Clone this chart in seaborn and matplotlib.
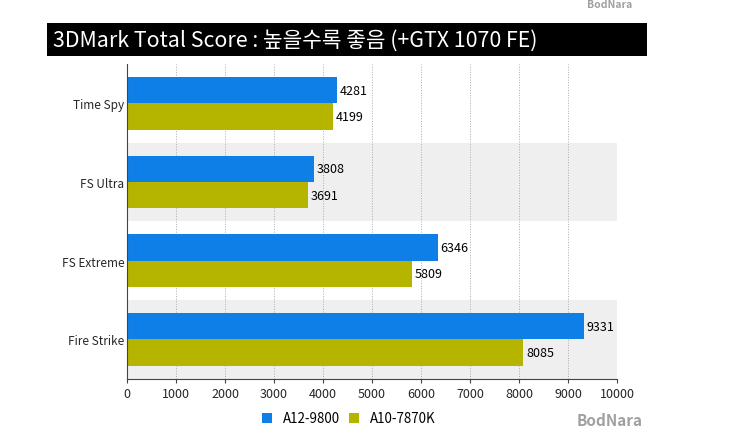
import pandas as pd
import matplotlib
matplotlib.use('Agg')
import matplotlib.pyplot as plt
from matplotlib.patches import Rectangle
import seaborn as sns

tests = ['Time Spy', 'FS Ultra', 'FS Extreme', 'Fire Strike']
a12_9800 = [4281, 3808, 6346, 9331]
a10_7870k = [4199, 3691, 5809, 8085]
x_ticks = [0, 1000, 2000, 3000, 4000, 5000, 6000, 7000, 8000, 9000, 10000]

sns.set_style('white')
plt.rcParams['font.family'] = ['Noto Sans CJK KR', 'DejaVu Sans']

W, H = 736, 435
fig = plt.figure(figsize=(W / 100, H / 100), dpi=100)
ax = fig.add_axes([127 / W, 1 - 379.5 / H, 490 / W, 314.5 / H])

df = pd.DataFrame({'test': tests, 'A12-9800': a12_9800, 'A10-7870K': a10_7870k})
df = df.melt(id_vars='test', var_name='cpu', value_name='score')

# grey bands behind every second row
ax.axhspan(0.5, 1.5, color='#efefef', zorder=0, lw=0)
ax.axhspan(2.5, 3.5, color='#efefef', zorder=0, lw=0)

sns.barplot(data=df, x='score', y='test', hue='cpu', order=tests,
            hue_order=['A12-9800', 'A10-7870K'],
            palette=['#0f7fe8', '#b5b500'], width=0.67, saturation=1,
            orient='h', ax=ax, legend=False, zorder=3, linewidth=0)

for cont in ax.containers:
    ax.bar_label(cont, padding=2, fontsize=9, color='black', fontweight='medium')

ax.set_xlim(0, 10000)
ax.set_ylim(3.5, -0.5)
ax.set_xticks(x_ticks)
ax.set_xlabel('')
ax.set_ylabel('')
ax.xaxis.grid(True, linestyle=':', color='#aaaaaa', linewidth=0.7, zorder=1)
ax.set_axisbelow(True)
ax.tick_params(axis='x', length=3, width=0.8, pad=3, labelsize=9, bottom=True, color='#444444')
ax.tick_params(axis='y', length=0, pad=2, labelsize=8.5)
for lab in ax.get_xticklabels() + ax.get_yticklabels():
    lab.set_fontweight('medium')
sns.despine(ax=ax, top=True, right=True)
ax.spines['left'].set_color('#444444')
ax.spines['bottom'].set_color('#444444')
ax.spines['left'].set_zorder(5)

# title band
fig.patches.append(Rectangle((47 / W, 1 - 57 / H), 600 / W, 33 / H, transform=fig.transFigure,
                             facecolor='black', edgecolor='none'))
fig.text(53 / W, 1 - 40.5 / H, '3DMark Total Score : 높을수록 좋음 (+GTX 1070 FE)',
         color='white', fontsize=15.4, fontweight='medium', va='center', ha='left')

# legend drawn by hand to hit the spacing
fig.patches.append(Rectangle((262 / W, 1 - 424 / H), 10 / W, 10 / H, transform=fig.transFigure,
                             facecolor='#0f7fe8', edgecolor='none'))
fig.text(283 / W, 1 - 419 / H, 'A12-9800', fontsize=9.6, fontweight='medium', va='center', color='black')
fig.patches.append(Rectangle((349 / W, 1 - 424 / H), 10 / W, 10 / H, transform=fig.transFigure,
                             facecolor='#b5b500', edgecolor='none'))
fig.text(370 / W, 1 - 419 / H, 'A10-7870K', fontsize=9.6, fontweight='medium', va='center', color='black')

# watermarks
fig.text(610 / W, 1 - 421 / H, 'BodNara', fontsize=11, fontweight='bold', color='#a0a0a0',
         ha='center', va='center')
fig.text(610 / W, 1 - 0 / H, 'BodNara', fontsize=7.5, fontweight='bold', color='#a0a0a0',
         ha='center', va='top')

fig.savefig('out.png', dpi=100)
